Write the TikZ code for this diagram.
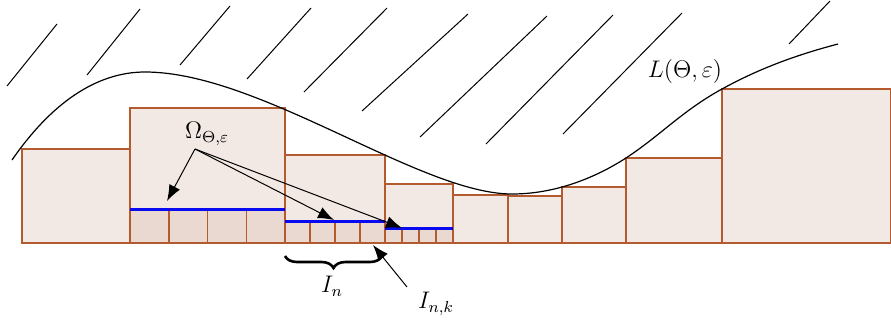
\documentclass[tikz,border=0pt]{standalone}
\usepackage{amsmath,amssymb}
\usepackage{tikz}
\usepackage{xcolor}
\usetikzlibrary{arrows.meta,positioning,calc,decorations.pathreplacing}
\definecolor{boxedge}{HTML}{B35A2E}
\definecolor{boxfill}{HTML}{F3E9E4}
\definecolor{cellfill}{HTML}{EAD9D0}
\definecolor{strip}{HTML}{0A0AF0}

\begin{document}
\begin{tikzpicture}[x=0.5pt,y=-0.5pt,
  every node/.style={font=\fontsize{11.5}{13}\selectfont},
  column/.style={fill=boxfill, draw=boxedge, line width=0.75pt},
  cell/.style={fill=cellfill, draw=boxedge, line width=0.75pt},
  hatch/.style={line width=0.5pt},
  pointer/.style={-{Latex[length=8pt,width=6pt]}, line width=0.5pt}]
\useasboundingbox (0,0) rectangle (891,323);
% hatching above the curve
\foreach \xa/\ya/\xb/\yb in {57/24/7/86, 140/9/87/75, 230/6/180/65, 311/8/247/79,
  387/8/304/92, 468/14/362/111, 547/16/420/137, 613/15/486/144, 682/13/563/134, 830/1/789/44}
  \draw[hatch] (\xa,\ya) -- (\xb,\yb);
% columns
\foreach \xa/\xb/\yt in {22/130/149, 130/285/108, 285/385/155, 385/453/184, 453/508/195,
  508/562/196, 562/626/187, 626/722/158, 722/891/89}
  \draw[column] (\xa,243) rectangle (\xb,\yt);
% cells under the strips
\foreach \xa/\xb/\yb in {130/285/209, 285/385/221, 385/453/228} {
  \draw[cell] (\xa,243) rectangle (\xb,\yb);
  \foreach \i in {1,2,3}
    \draw[boxedge, line width=0.75pt] ({\xa+\i*(\xb-\xa)/4},243) -- ({\xa+\i*(\xb-\xa)/4},\yb);
  \draw[strip, line width=1.5pt] (\xa,\yb) -- (\xb,\yb);
}
% the curve
\draw[line width=0.6pt] (12,160) .. controls (50,105) and (95,72) .. (145,72)
  .. controls (260,72) and (420,194) .. (512,194)
  .. controls (555,194) and (595,178) .. (626,158)
  .. controls (661,135) and (682,111) .. (722,89)
  .. controls (762,67) and (800,54) .. (838,44);
\node (lbl) at (685,71) {$L(\Theta,\varepsilon)$};
% labels and pointers
\node (omega) at (207,134) {$\Omega_{\Theta,\varepsilon}$};
\coordinate (foot) at (195,149);
\coordinate (s1) at (167,201);
\coordinate (s2) at (334,220);
\coordinate (s3) at (402,228);
\draw[pointer] (foot) -- (s1);
\draw[pointer] (foot) -- (s2);
\draw[pointer] (foot) -- (s3);
\draw[line width=1.3pt, decorate, decoration={brace, mirror, amplitude=6pt}] (285,256) -- (382,256);
\node (In) at (332,286) {$I_n$};
\node (Ink) at (436,304) {$I_{n,k}$};
\coordinate (cellk) at (373,245);
\draw[pointer] (407,287) -- (cellk);
\end{tikzpicture}
\end{document}
